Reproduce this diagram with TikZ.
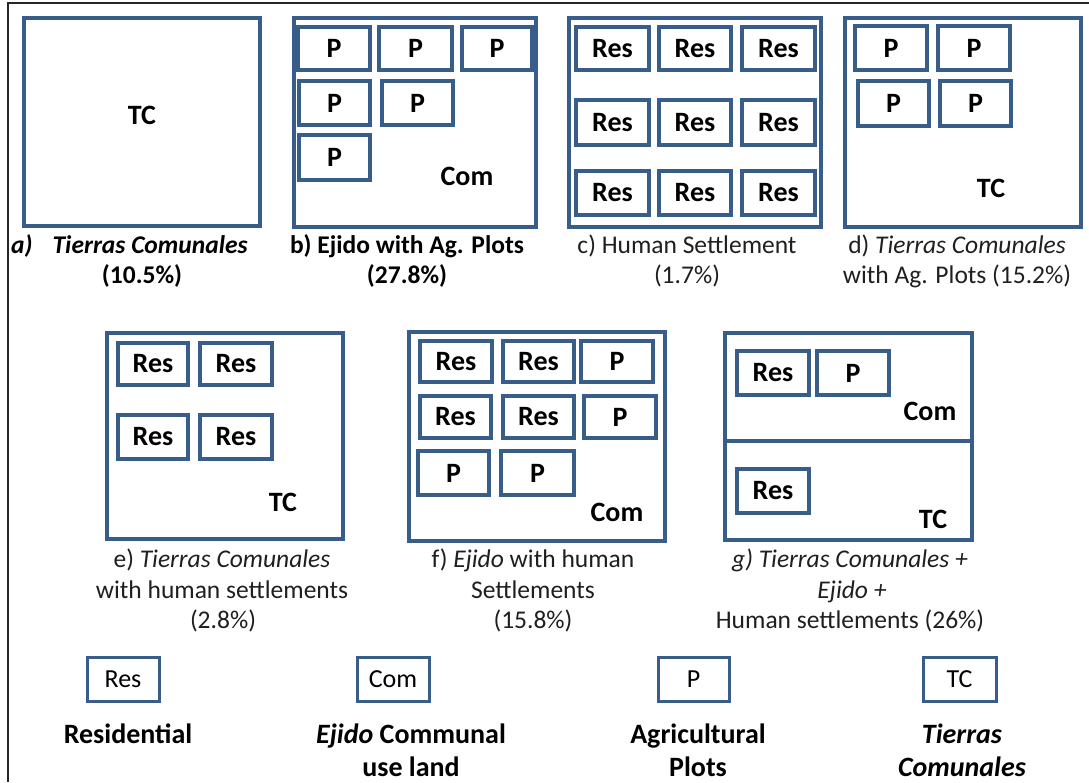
\documentclass[tikz,border=0pt]{standalone}
\usepackage{fontspec}
\setmainfont{Carlito}
\definecolor{landblue}{RGB}{56,93,138}
\tikzset{
  region/.style={draw=landblue, line width=4pt, inner sep=0pt, outer sep=0pt},
  cellbox/.style={draw=landblue, line width=4pt, inner sep=0pt, outer sep=0pt,
    font=\fontsize{28}{33}\selectfont\bfseries},
  keybox/.style={cellbox, line width=3pt, font=\fontsize{26}{31}\selectfont},
  tag/.style={font=\fontsize{28}{33}\selectfont\bfseries, inner sep=0pt},
  caption/.style={anchor=base, inner sep=0pt, font=\fontsize{25.5}{30}\selectfont, text=black!88},
  boldcap/.style={caption, text=black, font=\fontsize{25.5}{30}\selectfont\bfseries},
  keytext/.style={caption, text=black, font=\fontsize{28}{33}\selectfont\bfseries}
}
% \landcell[style]{name}{x1}{y1}{x2}{y2}{text}: box given by its outer edges
\newcommand\landcell[7][cellbox]{%
  \node[#1, minimum width={(#5-#3-4)*1pt}, minimum height={(#6-#4-4)*1pt}]
    (#2) at ({(#3+#5)/2},{(#4+#6)/2}) {#7};}
\begin{document}
\begin{tikzpicture}[x=1pt, y=-1pt]
\useasboundingbox (0,0) rectangle (1089,782);
\fill[white] (0,0) rectangle (1089,782);
% page frame
\draw[line width=1.3pt, black!85] (8,782) -- (8,3) -- (1089,3);

% ---------- a) Tierras Comunales ----------
\landcell[region]{a}{22}{16}{262}{228}{}
\node[tag] (a-tc) at (142,115) {TC};
\node[boldcap, anchor=base west] (a-cap1) at (11,253) {\itshape a)\hspace{20pt}Tierras Comunales};
\node[boldcap] (a-cap2) at (142,283) {(10.5\%)};

% ---------- b) Ejido with Ag. Plots ----------
\landcell[region]{b}{292}{16}{538}{229}{}
\landcell{b1}{296}{25}{372}{72}{P}
\landcell{b2}{377}{25}{454}{72}{P}
\landcell{b3}{460}{25}{534}{72}{P}
\landcell{b4}{297}{79}{372}{127}{P}
\landcell{b5}{380}{79}{455}{127}{P}
\landcell{b6}{297}{133}{372}{182}{P}
\node[tag] (b-com) at (467,176) {Com};
\node[boldcap] (b-cap1) at (407,253) {b) Ejido with Ag. Plots};
\node[boldcap] (b-cap2) at (407,283) {(27.8\%)};

% ---------- c) Human Settlement ----------
\landcell[region]{c}{567}{16}{823}{229}{}
\landcell{c1}{574}{25}{651}{72}{Res}
\landcell{c2}{657}{25}{733}{72}{Res}
\landcell{c3}{740}{25}{817}{72}{Res}
\landcell{c4}{574}{98}{651}{147}{Res}
\landcell{c5}{657}{98}{733}{147}{Res}
\landcell{c6}{740}{98}{817}{147}{Res}
\landcell{c7}{574}{169}{651}{217}{Res}
\landcell{c8}{657}{169}{733}{217}{Res}
\landcell{c9}{740}{169}{817}{217}{Res}
\node[caption] (c-cap1) at (687,253) {c) Human Settlement};
\node[caption] (c-cap2) at (687,283) {(1.7\%)};

% ---------- d) Tierras Comunales with Ag. Plots ----------
\landcell[region]{d}{843}{16}{1083}{229}{}
\landcell{d1}{853}{24}{929}{72}{P}
\landcell{d2}{936}{24}{1012}{72}{P}
\landcell{d3}{856}{79}{931}{128}{P}
\landcell{d4}{938}{79}{1013}{128}{P}
\node[tag] (d-tc) at (991,188) {TC};
\node[caption] (d-cap1) at (957,253) {d) \textit{Tierras Comunales}};
\node[caption] (d-cap2) at (957,283) {with Ag. Plots (15.2\%)};

% ---------- e) Tierras Comunales with human settlements ----------
\landcell[region]{e}{105}{331}{345}{541}{}
\landcell{e1}{116}{341}{190}{387}{Res}
\landcell{e2}{198}{341}{274}{387}{Res}
\landcell{e3}{116}{413}{190}{461}{Res}
\landcell{e4}{198}{413}{274}{461}{Res}
\node[tag] (e-tc) at (283,502) {TC};
\node[caption] (e-cap1) at (222,567) {e) \textit{Tierras Comunales}};
\node[caption] (e-cap2) at (222,598) {with human settlements};
\node[caption] (e-cap3) at (223,628) {(2.8\%)};

% ---------- f) Ejido with human settlements ----------
\landcell[region]{f}{407}{330}{667}{543}{}
\landcell{f1}{418}{339}{494}{384}{Res}
\landcell{f2}{501}{339}{576}{384}{Res}
\landcell{f3}{579}{339}{655}{384}{P}
\landcell{f4}{418}{394}{493}{440}{Res}
\landcell{f5}{501}{394}{576}{440}{Res}
\landcell{f6}{582}{394}{658}{440}{P}
\landcell{f7}{416}{449}{491}{497}{P}
\landcell{f8}{499}{449}{576}{497}{P}
\node[tag] (f-com) at (617,512) {Com};
\node[caption] (f-cap1) at (533,567) {f) \textit{Ejido} with human};
\node[caption] (f-cap2) at (533,598) {Settlements};
\node[caption] (f-cap3) at (533,628) {(15.8\%)};

% ---------- g) Tierras Comunales + Ejido + Human settlements ----------
\landcell[region]{g}{723}{331}{974}{542}{}
\coordinate (g-mid) at (848,441);
\draw[draw=landblue, line width=4pt] (g.west |- g-mid) -- (g.east |- g-mid);
\landcell{g1}{735}{349}{811}{397}{Res}
\landcell{g2}{815}{349}{891}{397}{P}
\landcell{g3}{735}{467}{811}{515}{Res}
\node[tag] (g-com) at (930,411) {Com};
\node[tag] (g-tc) at (933,519) {TC};
\node[caption] (g-cap1) at (850,567) {\textit{g) Tierras Comunales +}};
\node[caption] (g-cap2) at (852,598) {\textit{Ejido +}};
\node[caption] (g-cap3) at (850,628) {Human settlements (26\%)};

% ---------- key ----------
\landcell[keybox]{k-res}{85}{655}{161}{703}{Res}
\landcell[keybox]{k-com}{355}{655}{431}{703}{Com}
\landcell[keybox]{k-p}{656}{655}{731}{703}{P}
\landcell[keybox]{k-tc}{921}{655}{998}{703}{TC}
\node[keytext] (k-res-t) at (128,743) {Residential};
\node[keytext] (k-com-t1) at (411,743) {\textit{Ejido} Communal};
\node[keytext] (k-com-t2) at (411,776) {use land};
\node[keytext] (k-p-t1) at (698,743) {Agricultural};
\node[keytext] (k-p-t2) at (698,776) {Plots};
\node[keytext] (k-tc-t1) at (962,743) {\textit{Tierras}};
\node[keytext] (k-tc-t2) at (962,776) {\textit{Comunales}};
\end{tikzpicture}
\end{document}
